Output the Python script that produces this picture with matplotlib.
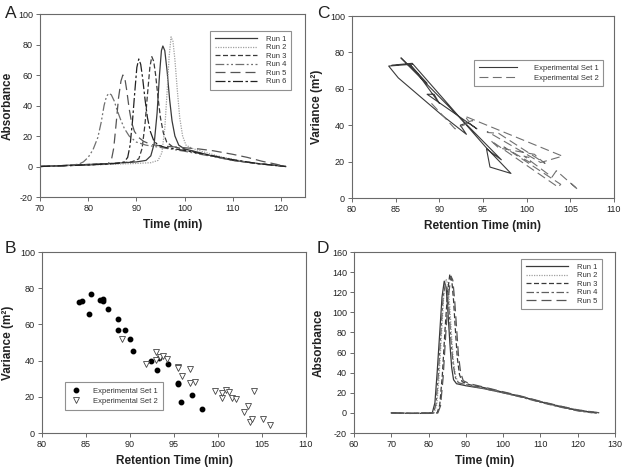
import matplotlib
matplotlib.use("Agg")
import matplotlib.pyplot as plt

plt.rcParams['font.family'] = ['Liberation Sans', 'DejaVu Sans']
plt.rcParams['axes.unicode_minus'] = False

# ---- Panel A: chromatograms, six runs (time, absorbance) ----
a_run1_t = [70, 85, 90, 92, 93, 93.7, 94.3, 94.8, 95.2, 95.5, 95.9, 96.4, 96.9, 97.4, 98, 98.8, 100, 102, 105, 110, 115, 121]
a_run1_y = [0, 2, 3, 4, 7, 15, 35, 60, 76, 79, 76, 62, 44, 30, 20, 14, 11.5, 10, 7.5, 4, 2, 0]
a_run2_t = [70, 85, 90, 93, 94.5, 95.3, 95.9, 96.4, 96.8, 97.2, 97.6, 98, 98.5, 99, 99.6, 100.3, 101.5, 104, 108, 112, 116, 121]
a_run2_y = [0, 1.5, 2, 2.5, 4, 9, 25, 50, 72, 85, 82, 70, 50, 32, 20, 14, 12, 9.5, 6, 3.5, 1.5, 0]
a_run3_t = [70, 85, 89, 90.5, 91.2, 91.8, 92.3, 92.8, 93.2, 93.6, 94, 94.5, 95, 95.6, 96.3, 97.5, 99, 101, 105, 110, 115, 121]
a_run3_y = [0, 2, 3, 5, 12, 28, 47, 65, 72, 69, 60, 45, 32, 22, 16, 13, 12, 10.5, 7.5, 4.2, 2, 0]
a_run4_t = [70, 75, 78, 79, 80, 81, 82, 82.7, 83.3, 83.8, 84.3, 84.8, 85.4, 86, 86.7, 87.5, 88.5, 90, 92, 95, 100, 105, 110, 115, 121]
a_run4_y = [0, 0.5, 1.5, 3, 6, 11, 19, 29, 40, 46, 48, 47, 43, 37, 31, 25, 20, 16, 14, 12.5, 10, 7, 4, 2, 0]
a_run5_t = [70, 80, 84, 84.8, 85.3, 85.8, 86.3, 86.8, 87.2, 87.6, 88, 88.5, 89, 89.6, 90.5, 91.5, 93, 95, 98, 100, 103, 106, 110, 113, 116, 119, 121]
a_run5_y = [0, 1, 1.5, 4, 12, 28, 45, 56, 60, 58, 50, 38, 29, 23, 19, 16.5, 14.5, 13.5, 12.8, 12.3, 11.5, 10.3, 8, 6, 3.5, 1.5, 0]
a_run6_t = [70, 80, 86, 87.5, 88.2, 88.7, 89.2, 89.7, 90.1, 90.5, 90.9, 91.3, 91.8, 92.3, 92.9, 93.6, 94.5, 96, 98, 100, 105, 110, 115, 121]
a_run6_y = [0, 1, 2, 3, 6, 14, 30, 50, 65, 70.5, 67, 58, 44, 32, 23, 17, 14, 12.5, 11.5, 10.5, 7.5, 4.5, 2, 0]

# ---- Panel B: variance vs retention time ----
set1_rt = [84.2, 84.6, 85.3, 85.6, 86.6, 86.9, 86.9, 87.5, 88.6, 88.6, 89.4, 90.0, 90.3,
           92.4, 93.1, 93.3, 94.3, 95.4, 95.4, 95.8, 97.1, 98.2]
set1_var = [72.5, 73, 66, 77, 73.5, 74, 73, 68.5, 63, 57, 57, 52, 45.5,
            40, 35, 41.5, 38, 27, 27.5, 17, 21, 13.5]
set2_rt = [89.1, 91.8, 92.9, 93.0, 93.4, 93.8, 94.2, 95.5, 95.5, 95.9, 96.8, 96.8, 97.4,
           99.7, 100.4, 100.5, 100.9, 101.2, 101.6, 102.1, 102.9, 103.4, 103.6, 103.9,
           104.1, 105.1, 105.9]
set2_var = [52, 38, 45, 40.5, 42, 42.5, 41, 36.5, 36, 31.5, 35.5, 27.5, 28,
            23, 19.5, 22, 24, 22.5, 19.5, 19, 11.5, 15, 6, 7.5,
            23, 8, 4.5]

# ---- Panel C: same measurements joined in run order ----
c_set1_rt = [86.9, 84.2, 85.3, 90.3, 93.1, 92.4, 93.3, 94.3, 88.6, 89.4, 90.0, 87.5, 86.6,
             88.6, 85.6, 97.1, 95.4, 95.8, 98.2, 95.4, 86.9, 84.6]
c_set1_var = [73.5, 72.5, 66, 45.5, 35, 40, 41.5, 38, 57, 57, 52, 68.5, 73.5,
              63, 77, 21, 27, 17, 13.5, 27.5, 74, 73]
c_set2_rt = [89.1, 91.8, 93.0, 93.8, 93.4, 92.9, 104.1, 101.6, 95.5, 95.5, 96.8, 102.1, 101.2,
             100.9, 96.8, 95.9, 103.6, 103.9, 97.4, 100.4, 100.5, 99.7, 102.9, 103.4, 105.9, 105.1]
c_set2_var = [52, 38, 40.5, 42.5, 42, 45, 23, 19.5, 36.5, 36, 35.5, 19, 22.5,
              24, 27.5, 31.5, 6, 7.5, 28, 19.5, 22, 23, 11.5, 15, 4.5, 8]

# ---- Panel D: chromatograms, five runs ----
d_run1_t = [70, 75, 80, 81, 81.7, 82.3, 83, 83.6, 84.2, 84.7, 85.2, 85.7, 86.2, 86.7, 87.5, 90, 95, 100, 105, 110, 115, 120, 125]
d_run1_y = [0, -0.5, -0.5, 0, 10, 40, 80, 115, 131, 125, 100, 70, 45, 33, 29, 27, 24, 20, 16, 11, 6.5, 2.5, 0]
d_run2_t = [70, 75, 81.5, 82.2, 82.8, 83.5, 84.1, 84.7, 85.2, 85.7, 86.2, 86.7, 87.3, 88, 90, 95, 100, 105, 110, 115, 120, 126]
d_run2_y = [0, -0.5, 0, 8, 35, 80, 118, 133, 128, 105, 75, 50, 36, 30, 28, 24.5, 20.5, 16, 11.5, 7, 3, 0]
d_run3_t = [70, 75, 82.3, 83, 83.7, 84.4, 85.1, 85.7, 86.2, 86.7, 87.2, 87.7, 88.3, 89, 91, 95, 100, 105, 110, 115, 120, 125]
d_run3_y = [0, -0.5, 0, 8, 38, 82, 120, 138, 133, 112, 82, 55, 38, 31, 28, 25, 20.5, 16, 11, 6.5, 2.5, 0]
d_run4_t = [70, 75, 81.3, 82, 82.6, 83.3, 83.9, 84.5, 85, 85.5, 86, 86.6, 87.2, 88, 90, 95, 100, 105, 110, 115, 120, 124]
d_run4_y = [0, -0.5, 0, 9, 38, 80, 115, 128, 124, 102, 72, 48, 35, 30, 28, 24, 20, 15.5, 10.5, 6, 2, 0]
d_run5_t = [70, 75, 82.5, 83.2, 83.9, 84.6, 85.3, 86, 86.5, 87, 87.5, 88, 88.6, 89.3, 91, 95, 100, 105, 110, 115, 120, 126]
d_run5_y = [0, -0.5, 0, 7, 35, 78, 115, 136, 132, 112, 85, 58, 40, 32, 29, 25.5, 21, 16.5, 11.5, 7, 3, 0]

run_labels_a = ['Run 1', 'Run 2', 'Run 3', 'Run 4', 'Run 5', 'Run 6']
run_labels_d = ['Run 1', 'Run 2', 'Run 3', 'Run 4', 'Run 5']

run_styles = [
    dict(color='#3a3a3a', linestyle='-'),
    dict(color='#a0a0a0', linestyle=(0, (1, 1))),
    dict(color='#3a3a3a', linestyle=(0, (4, 2))),
    dict(color='#707070', linestyle=(0, (7, 2, 1.5, 2, 1.5, 2))),
    dict(color='#555555', linestyle=(0, (8, 4))),
    dict(color='#222222', linestyle=(0, (8, 2, 2, 2))),
]

W, H = 624, 473
fig = plt.figure(figsize=(W / 100, H / 100), dpi=100)
fig.patch.set_facecolor('white')


def make_ax(left, top, right, bottom):
    ax = fig.add_axes([left / W, 1 - bottom / H, (right - left) / W, (bottom - top) / H])
    for s in ax.spines.values():
        s.set_color('#6a6a6a')
        s.set_linewidth(0.8)
    ax.tick_params(direction='out', length=3, width=0.7, color='#6a6a6a',
                   labelsize=6.5, labelcolor='#222222', top=False, right=False, pad=2)
    return ax


def style_legend(leg):
    fr = leg.get_frame()
    fr.set_edgecolor('#909090')
    fr.set_linewidth(0.8)
    fr.set_boxstyle('square', pad=0)
    for t in leg.get_texts():
        t.set_color('#333333')


label_kw = dict(fontsize=8.5, fontweight='bold', color='#222222')

# ---- A ----
axA = make_ax(40, 14, 305, 197)
a_data = [(a_run1_t, a_run1_y), (a_run2_t, a_run2_y), (a_run3_t, a_run3_y),
          (a_run4_t, a_run4_y), (a_run5_t, a_run5_y), (a_run6_t, a_run6_y)]
for (t, y), lab, st in zip(a_data, run_labels_a, run_styles):
    axA.plot(t, y, linewidth=0.9, label=lab, **st)
axA.set_xlim(70, 125)
axA.set_ylim(-20, 100)
axA.set_xticks(range(70, 121, 10))
axA.set_yticks(range(-20, 101, 20))
axA.set_xlabel('Time (min)', labelpad=4, **label_kw)
axA.set_ylabel('Absorbance', labelpad=3, **label_kw)
leg = axA.legend(loc='upper left', bbox_to_anchor=(210 / W, 1 - 31 / H), bbox_transform=fig.transFigure,
                 fontsize=5.5, handlelength=5.5, handletextpad=1.2, labelspacing=0.15,
                 borderpad=0.6, borderaxespad=0, fancybox=False, framealpha=1)
style_legend(leg)

# ---- C ----
axC = make_ax(352, 16, 614, 198)
axC.plot(c_set1_rt, c_set1_var, color='#3a3a3a', linewidth=0.8, label='Experimental Set 1')
axC.plot(c_set2_rt, c_set2_var, color='#707070', linewidth=0.8, linestyle=(0, (8, 4)),
         label='Experimental Set 2')
axC.set_xlim(80, 110)
axC.set_ylim(0, 100)
axC.set_xticks(range(80, 111, 5))
axC.set_yticks(range(0, 101, 20))
axC.set_xlabel('Retention Time (min)', labelpad=4, **label_kw)
axC.set_ylabel('Variance (m²)', labelpad=5, **label_kw)
leg = axC.legend(loc='upper left', bbox_to_anchor=(474 / W, 1 - 60 / H), bbox_transform=fig.transFigure,
                 fontsize=5.5, handlelength=5.0, handletextpad=2.2, labelspacing=0.3,
                 borderpad=0.6, borderaxespad=0, fancybox=False, framealpha=1)
style_legend(leg)

# ---- B ----
axB = make_ax(42, 252, 306, 433)
axB.plot(set1_rt, set1_var, linestyle='none', marker='o', markersize=3.2, color='black',
         label='Experimental Set 1')
axB.plot(set2_rt, set2_var, linestyle='none', marker='v', markersize=3.8, markerfacecolor='white',
         markeredgecolor='#444444', markeredgewidth=0.6, label='Experimental Set 2')
axB.set_xlim(80, 110)
axB.set_ylim(0, 100)
axB.set_xticks(range(80, 111, 5))
axB.set_yticks(range(0, 101, 20))
axB.set_xlabel('Retention Time (min)', labelpad=4, **label_kw)
axB.set_ylabel('Variance (m²)', labelpad=4, **label_kw)
leg = axB.legend(loc='upper left', bbox_to_anchor=(65 / W, 1 - 382 / H), bbox_transform=fig.transFigure,
                 fontsize=5.5, handlelength=1.5, handletextpad=1.5, labelspacing=0.4,
                 borderpad=0.7, borderaxespad=0, fancybox=False, framealpha=1)
style_legend(leg)

# ---- D ----
axD = make_ax(354, 252, 615, 433)
d_data = [(d_run1_t, d_run1_y), (d_run2_t, d_run2_y), (d_run3_t, d_run3_y),
          (d_run4_t, d_run4_y), (d_run5_t, d_run5_y)]
d_styles = [run_styles[0], run_styles[1], run_styles[2],
            dict(color='#606060', linestyle=(0, (6, 2, 2, 2))), run_styles[4]]
for (t, y), lab, st in zip(d_data, run_labels_d, d_styles):
    axD.plot(t, y, linewidth=0.9, label=lab, **st)
axD.set_xlim(60, 130)
axD.set_ylim(-20, 160)
axD.set_xticks(range(60, 131, 10))
axD.set_yticks(range(-20, 161, 20))
axD.set_xlabel('Time (min)', labelpad=4, **label_kw)
axD.set_ylabel('Absorbance', labelpad=5, **label_kw)
leg = axD.legend(loc='upper left', bbox_to_anchor=(521 / W, 1 - 259 / H), bbox_transform=fig.transFigure,
                 fontsize=5.5, handlelength=5.5, handletextpad=1.2, labelspacing=0.15,
                 borderpad=0.6, borderaxespad=0, fancybox=False, framealpha=1)
style_legend(leg)

# panel letters
for letter, x, y in [('A', 5, 18), ('C', 317, 18), ('B', 5, 253), ('D', 317, 253)]:
    fig.text(x / W, 1 - y / H, letter, fontsize=12.5, color='#222222', va='baseline')

fig.savefig('out.png', dpi=100, facecolor='white')
